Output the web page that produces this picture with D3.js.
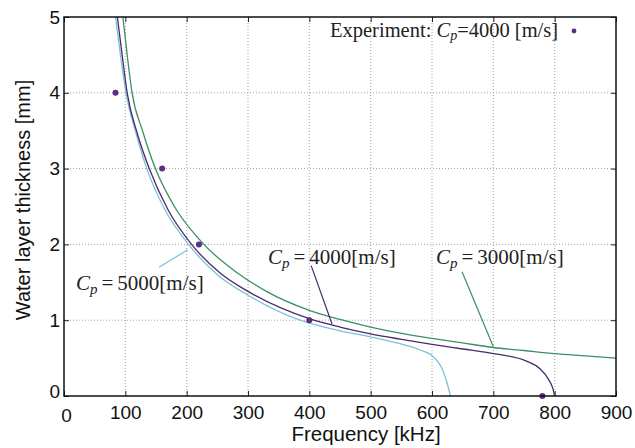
<!DOCTYPE html>
<html>
<head>
<meta charset="utf-8">
<script src="https://cdn.jsdelivr.net/npm/d3@7"></script>
<style>
  body { margin: 0; background: #fff; }
  svg { display: block; }
</style>
</head>
<body>
<script>
// data: frequency [kHz] / water layer thickness [mm]
const cp3000Freq = [96, 103, 111, 128, 149, 180, 228, 280, 330, 400, 450, 500, 548, 600, 650, 700, 750, 800, 850, 900]
const cp3000Thick = [5.0, 4.5, 4.0, 3.5, 3.0, 2.5, 2.0, 1.64, 1.38, 1.13, 1.01, 0.91, 0.83, 0.76, 0.70, 0.64, 0.60, 0.56, 0.53, 0.50]

const cp4000Freq = [87, 94, 103, 120, 139, 170, 208, 255, 300, 400, 450, 500, 548, 600, 650, 700, 754, 776, 790, 797, 800]
const cp4000Thick = [5.0, 4.55, 4.0, 3.45, 3.0, 2.45, 2.0, 1.62, 1.38, 1.02, 0.91, 0.82, 0.75, 0.68, 0.62, 0.56, 0.46, 0.36, 0.22, 0.1, 0.0]

const cp5000Freq = [84, 92, 101, 118, 135, 165, 203, 250, 300, 385, 450, 500, 548, 580, 602, 616, 624, 630]
const cp5000Thick = [5.0, 4.5, 4.0, 3.45, 3.0, 2.45, 2.0, 1.6, 1.33, 1.0, 0.86, 0.78, 0.69, 0.61, 0.52, 0.37, 0.19, 0.0]

const expFreq = [84, 160, 220, 400, 780]
const expThick = [4, 3, 2, 1, 0]

const xTicks = [0, 100, 200, 300, 400, 500, 600, 700, 800, 900]
const yTicks = [0, 1, 2, 3, 4, 5]

// annotation labels: text, leader start / end in data units
const labels = [
    {cp: "5000", color: "#7cc0d6", tx: 76, ty: 290, from: [155, 1.70], to: [202, 1.93]},
    {cp: "4000", color: "#4a2a6e", tx: 268, ty: 264, from: [403, 1.72], to: [437, 0.95]},
    {cp: "3000", color: "#3d8f62", tx: 436, ty: 264, from: [649, 1.64], to: [700, 0.65]}
]

const dimensions = {
    width: 635,
    height: 448,
    margin: {top: 17, right: 19, bottom: 52, left: 64}
}
dimensions.boundedWidth = dimensions.width - dimensions.margin.left - dimensions.margin.right
dimensions.boundedHeight = dimensions.height - dimensions.margin.top - dimensions.margin.bottom

const svg = d3.select("body")
    .append("svg")
    .attr("width", dimensions.width)
    .attr("height", dimensions.height)

const bounds = svg.append("g")
    .attr("transform", `translate(${dimensions.margin.left},${dimensions.margin.top})`)

const xScale = d3.scaleLinear()
    .domain([0, 900])
    .range([0, dimensions.boundedWidth])

const yScale = d3.scaleLinear()
    .domain([0, 5])
    .range([dimensions.boundedHeight, 0])

// grid
bounds.append("g")
    .selectAll("line")
    .data(xTicks.slice(1, -1))
    .join("line")
    .attr("x1", d => xScale(d)).attr("x2", d => xScale(d))
    .attr("y1", 0).attr("y2", dimensions.boundedHeight)
    .attr("stroke", "#8a8a8a")
    .attr("stroke-width", 0.8)
    .attr("stroke-dasharray", "1,2")

bounds.append("g")
    .selectAll("line")
    .data(yTicks.slice(1, -1))
    .join("line")
    .attr("x1", 0).attr("x2", dimensions.boundedWidth)
    .attr("y1", d => yScale(d)).attr("y2", d => yScale(d))
    .attr("stroke", "#8a8a8a")
    .attr("stroke-width", 0.8)
    .attr("stroke-dasharray", "1,2")

// axes (ticks inward, on all four sides)
const tickFont = "'Liberation Sans', Arial, sans-serif"

const xAxis = bounds.append("g")
    .attr("transform", `translate(0,${dimensions.boundedHeight})`)
    .call(d3.axisBottom(xScale).tickValues(xTicks).tickSize(-5).tickPadding(10).tickFormat(d3.format("d")))
xAxis.select(".domain").remove()
xAxis.selectAll("text").style("font-family", tickFont).style("font-size", "19px").attr("fill", "#111")
xAxis.selectAll("text").filter(d => d === 0).attr("dx", 2).attr("dy", "0.85em")

const yAxis = bounds.append("g")
    .call(d3.axisLeft(yScale).tickValues(yTicks).tickSize(-5).tickPadding(4).tickFormat(d3.format("d")))
yAxis.select(".domain").remove()
yAxis.selectAll("text").style("font-family", tickFont).style("font-size", "19px").attr("fill", "#111")
yAxis.selectAll("text").filter(d => d === 0).attr("dy", "0.1em")

bounds.append("g")
    .call(d3.axisTop(xScale).tickValues(xTicks).tickSize(-5).tickFormat(""))
    .select(".domain").remove()

bounds.append("g")
    .attr("transform", `translate(${dimensions.boundedWidth},0)`)
    .call(d3.axisRight(yScale).tickValues(yTicks).tickSize(-5).tickFormat(""))
    .select(".domain").remove()

bounds.selectAll(".tick line").attr("stroke", "#222")

// clip
svg.append("defs").append("clipPath")
    .attr("id", "plot-clip")
    .append("rect")
    .attr("width", dimensions.boundedWidth)
    .attr("height", dimensions.boundedHeight)

const lineGen = d3.line()
    .x(d => xScale(d[0]))
    .y(d => yScale(d[1]))
    .curve(d3.curveMonotoneX)

const series = [
    {freq: cp3000Freq, thick: cp3000Thick, color: "#3d8f62"},
    {freq: cp5000Freq, thick: cp5000Thick, color: "#7cc0d6"},
    {freq: cp4000Freq, thick: cp4000Thick, color: "#4a2a6e"}
]

const curves = bounds.append("g").attr("clip-path", "url(#plot-clip)")
curves.selectAll("path")
    .data(series)
    .join("path")
    .attr("d", s => lineGen(s.freq.map((f, i) => [f, s.thick[i]])))
    .attr("fill", "none")
    .attr("stroke", s => s.color)
    .attr("stroke-width", 1.3)

// leaders
bounds.selectAll(".leader")
    .data(labels)
    .join("line")
    .attr("class", "leader")
    .attr("x1", d => xScale(d.from[0])).attr("y1", d => yScale(d.from[1]))
    .attr("x2", d => xScale(d.to[0])).attr("y2", d => yScale(d.to[1]))
    .attr("stroke", d => d.color)
    .attr("stroke-width", 1.2)

// experiment dots
bounds.append("g")
    .selectAll("circle")
    .data(expFreq.map((f, i) => [f, expThick[i]]))
    .join("circle")
    .attr("cx", d => xScale(d[0]))
    .attr("cy", d => yScale(d[1]))
    .attr("r", 3)
    .attr("fill", "#5b2e86")

// frame
bounds.append("rect")
    .attr("width", dimensions.boundedWidth)
    .attr("height", dimensions.boundedHeight)
    .attr("fill", "none")
    .attr("stroke", "#111")
    .attr("stroke-width", 1.5)

// curve labels (LaTeX look)
const serif = "'Liberation Serif', 'DejaVu Serif', serif"
labels.forEach(l => {
    const t = svg.append("text")
        .attr("x", l.tx).attr("y", l.ty)
        .style("font-family", serif)
        .style("font-size", "21px")
        .attr("fill", "#222")
    t.append("tspan").style("font-style", "italic").text("C")
    t.append("tspan").style("font-style", "italic").style("font-size", "15px").attr("dy", 4).text("p")
    t.append("tspan").attr("dy", -4).attr("dx", 4).text("=")
    t.append("tspan").attr("dx", 4).text(`${l.cp}[m/s]`)
})

// experiment legend
const legend = svg.append("text")
    .attr("x", 330).attr("y", 37)
    .style("font-family", serif)
    .style("font-size", "20.5px")
    .attr("fill", "#222")
legend.append("tspan").text("Experiment: ")
legend.append("tspan").style("font-style", "italic").text("C")
legend.append("tspan").style("font-style", "italic").style("font-size", "14px").attr("dy", 3).text("p")
legend.append("tspan").attr("dy", -3).text("=4000 [m/s]")

svg.append("circle")
    .attr("cx", 574).attr("cy", 31)
    .attr("r", 2.4)
    .attr("fill", "#5b2e86")

// axis titles
svg.append("text")
    .attr("x", 366).attr("y", 441)
    .attr("text-anchor", "middle")
    .style("font-family", tickFont)
    .style("font-size", "20.5px")
    .attr("fill", "#111")
    .text("Frequency [kHz]")

svg.append("text")
    .attr("transform", "translate(30,200) rotate(-90)")
    .attr("text-anchor", "middle")
    .style("font-family", tickFont)
    .style("font-size", "20px")
    .attr("fill", "#111")
    .text("Water layer thickness [mm]")
</script>
</body>
</html>
